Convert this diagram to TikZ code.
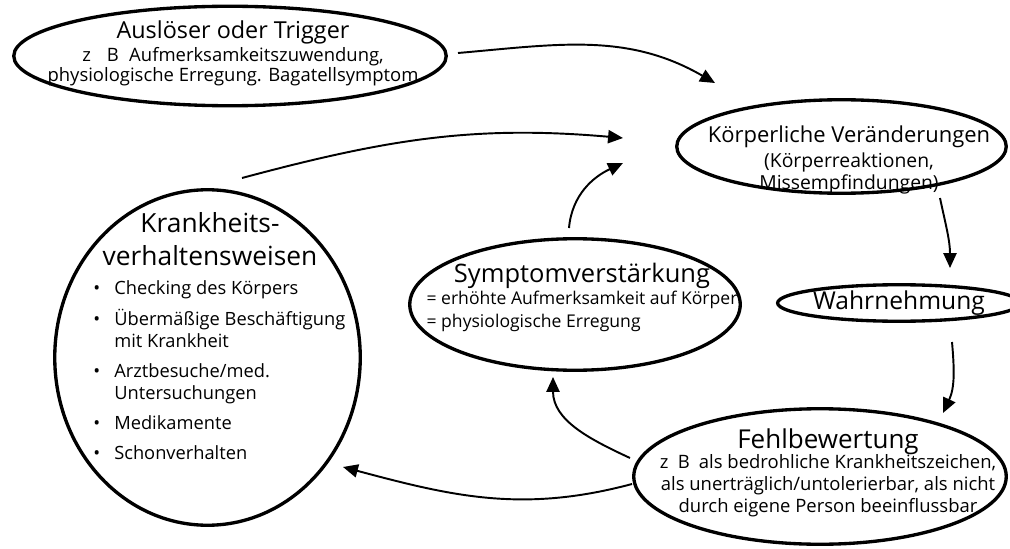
\documentclass[tikz,border=0pt]{standalone}
\usepackage{fontspec}
\setmainfont{Open Sans}
\usetikzlibrary{shapes.geometric,arrows.meta}

\begin{document}
\begin{tikzpicture}[
  bubble/.style={ellipse,draw,line width=1.9pt,inner sep=0pt},
  arr/.style={-{Triangle[length=8.5pt,width=7.5pt]},line width=1.1pt},
  txt/.style={inner sep=0pt,anchor=base}]
  \useasboundingbox (0,0) rectangle (20.2,10.96);

  % the six ellipses
  \node[bubble,minimum width=8.65cm,minimum height=1.99cm] (ausl) at (4.60,9.84) {};
  \node[bubble,minimum width=6.59cm,minimum height=1.87cm] (koerp) at (16.83,8.03) {};
  \node[bubble,minimum width=4.29cm,minimum height=0.73cm] (wahr) at (17.98,4.90)
    {\fontsize{14}{16}\selectfont Wahrnehmung};
  \node[bubble,minimum width=7.45cm,minimum height=2.71cm] (fehl) at (16.40,1.43) {};
  \node[bubble,minimum width=6.61cm,minimum height=2.63cm] (sympt) at (11.50,4.87) {};
  \node[bubble,minimum width=6.11cm,minimum height=6.71cm] (krank) at (4.15,3.81) {};

  % texts
  \node[txt,font=\fontsize{10.5}{11.4}\selectfont] (ausltext) at ([shift={(0.06,0.34)}]ausl.center)
    {\begin{tabular}[t]{@{}c@{}}
      {\fontsize{13.3}{15}\selectfont Auslöser oder Trigger}\\[1.1pt]
      z\hspace{9pt}B\hspace{6pt}Aufmerksamkeitszuwendung,\\
      physiologische Erregung. Bagatellsymptom
    \end{tabular}};
  \node[txt,font=\fontsize{11}{12}\selectfont] (koerptext) at ([shift={(0.15,0.07)}]koerp.center)
    {\begin{tabular}[t]{@{}c@{}}
      {\fontsize{12.5}{15}\selectfont Körperliche Veränderungen}\\[2.2pt]
      (Körperreaktionen,\\
      Missempfindungen)
    \end{tabular}};
  \node[txt,font=\fontsize{10.5}{12.7}\selectfont] (fehltext) at ([shift={(0.16,0.57)}]fehl.center)
    {\begin{tabular}[t]{@{}c@{}}
      {\fontsize{14.8}{16}\selectfont Fehlbewertung}\\[-1.3pt]
      z\enspace B\enspace  als bedrohliche Krankheitszeichen,\\
      als unerträglich/untolerierbar, als nicht\\
      durch eigene Person beeinflussbar
    \end{tabular}};
  \node[txt,font=\fontsize{10}{13}\selectfont] (sympttext) at ([shift={(0.14,0.45)}]sympt.center)
    {\begin{tabular}[t]{@{}l@{}}
      \multicolumn{1}{@{}c@{}}{\fontsize{14.5}{16}\selectfont Symptomverstärkung}\\
      = erhöhte Aufmerksamkeit auf Körper\\
      = physiologische Erregung
    \end{tabular}};
  \node[txt,font=\fontsize{15}{18.8}\selectfont] (kranktitle) at ([shift={(0.05,2.51)}]krank.center)
    {\begin{tabular}[t]{@{}c@{}}
      Krankheits-\\
      verhaltensweisen
    \end{tabular}};
  \node[txt,anchor=base west,font=\fontsize{10.4}{12.5}\selectfont] (kranklist)
    at ([shift={(-2.29,1.26)}]krank.center)
    {\begin{tabular}[t]{@{}l@{\hspace{8pt}}l@{}}
      \textbullet & Checking des Körpers\\[4.6pt]
      \textbullet & Übermäßige Beschäftigung\\
                  & mit Krankheit\\[4.6pt]
      \textbullet & Arztbesuche/med.\\
                  & Untersuchungen\\[4.6pt]
      \textbullet & Medikamente\\[4.6pt]
      \textbullet & Schonverhalten
    \end{tabular}};

  % arrows
  \draw[arr] ([shift={(4.56,0.06)}]ausl.center) to[out=5,in=150] ([shift={(-2.53,1.27)}]koerp.center);
  \draw[arr] ([shift={(0.69,3.59)}]krank.center) to[out=15,in=175] ([shift={(-4.37,0.17)}]koerp.center);
  \draw[arr] ([shift={(-0.12,1.53)}]sympt.center) to[out=85,in=205] ([shift={(-4.37,-0.33)}]koerp.center);
  \draw[arr] ([shift={(1.97,-1.03)}]koerp.center) to[out=-78,in=90] ([shift={(1.02,0.70)}]wahr.center);
  \draw[arr] ([shift={(1.06,-0.78)}]wahr.center) to[out=-85,in=65] ([shift={(2.46,1.27)}]fehl.center);
  \draw[arr] ([shift={(-3.80,0.37)}]fehl.center) to[out=155,in=-90] ([shift={(-0.44,-1.45)}]sympt.center);
  \draw[arr] ([shift={(-3.76,-0.15)}]fehl.center) to[out=195,in=-15] ([shift={(2.71,-2.19)}]krank.center);
\end{tikzpicture}
\end{document}
